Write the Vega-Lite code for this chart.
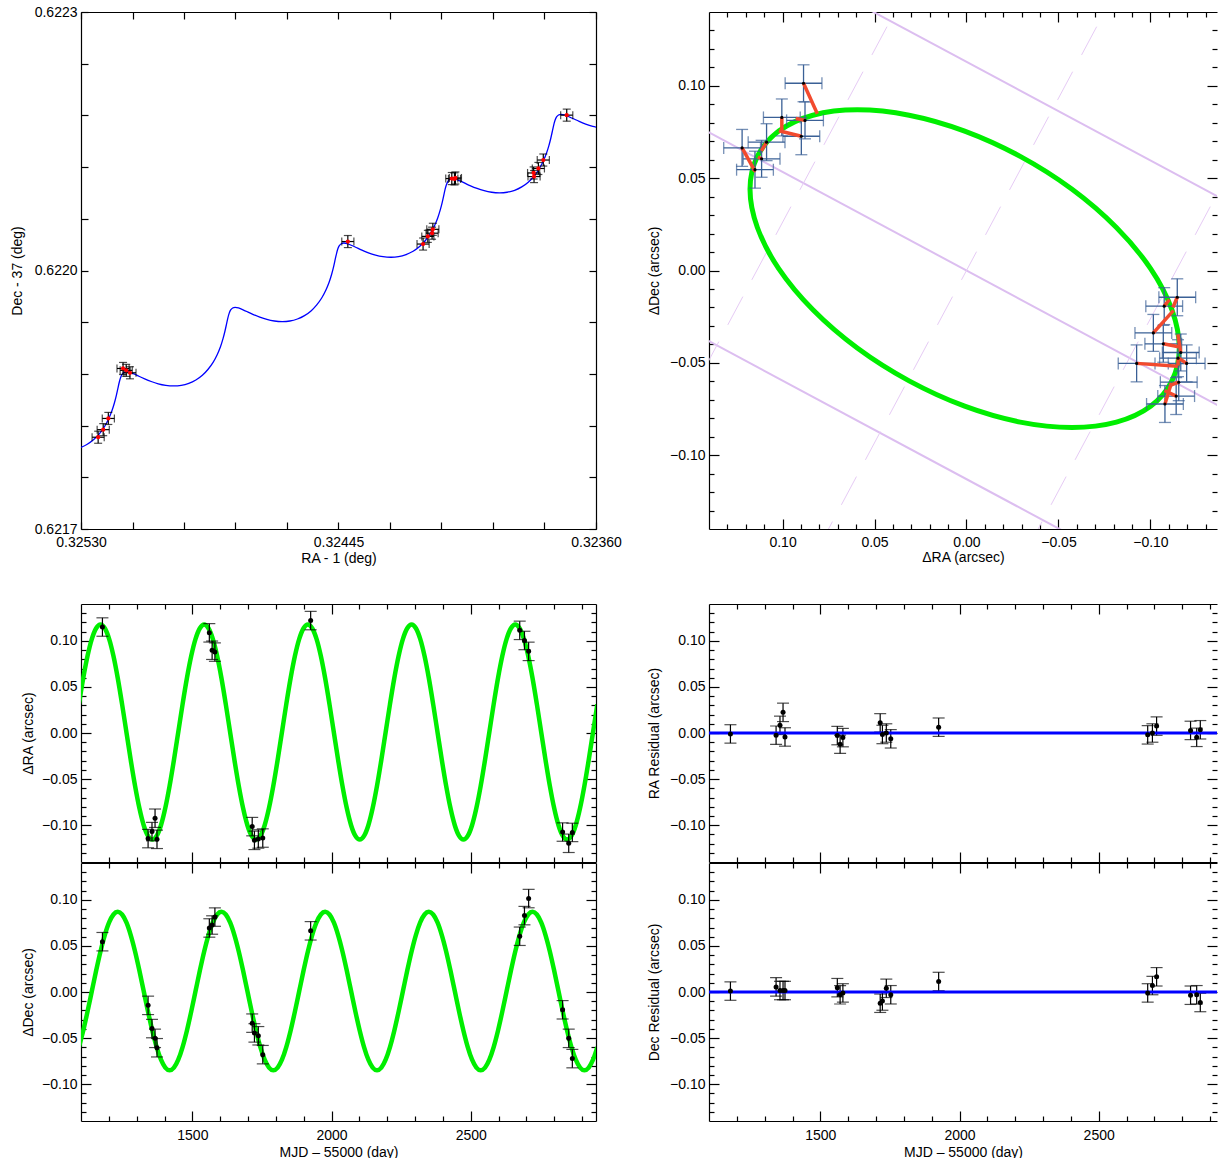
{
"$schema":"https://vega.github.io/schema/vega-lite/v6.json",
"padding":{"left":10,"top":5,"right":0,"bottom":0},
"config":{"view":{"stroke":null},"font":"Liberation Sans",
"axis":{"grid":false,"labelFont":"Liberation Sans","titleFont":"Liberation Sans","labelFontSize":14,"titleFontSize":14,"titleFontWeight":"normal","labelColor":"#000","titleColor":"#000","domainColor":"#000","tickColor":"#000","domainWidth":1.2,"tickWidth":1.2,"labelOverlap":false,"labelFlush":false,"labelBound":false}},
"datasets":{
"obs":[
{"t":1177,"ra":0.115,"dec":0.0546,"rra":-0.001,"rdec":0.001,"mra":0.116,"mdec":0.0536,"err":0.01,"rax":0.3236966,"decy":0.6221803,"erax":0.00002,"edecy":0.000007},
{"t":1341,"ra":-0.1146,"dec":-0.0145,"rra":-0.0024,"rdec":0.0055,"mra":-0.1122,"mdec":-0.02,"err":0.01,"rax":0.323774,"decy":0.6221282,"erax":0.00002,"edecy":0.000007},
{"t":1355,"ra":-0.107,"dec":-0.0397,"rra":0.0083,"rdec":0.0016,"mra":-0.1153,"mdec":-0.0413,"err":0.01,"rax":0.3237902,"decy":0.6221184,"erax":0.00002,"edecy":0.000007},
{"t":1366,"ra":-0.0925,"dec":-0.0503,"rra":0.0224,"rdec":0.0016,"mra":-0.1149,"mdec":-0.0519,"err":0.01,"rax":0.3238059,"decy":0.6221132,"erax":0.00002,"edecy":0.000007},
{"t":1373,"ra":-0.1154,"dec":-0.0605,"rra":-0.0043,"rdec":0.0016,"mra":-0.1111,"mdec":-0.0621,"err":0.01,"rax":0.3238045,"decy":0.622109,"erax":0.00002,"edecy":0.000007},
{"t":1561,"ra":0.1087,"dec":0.0695,"rra":-0.0028,"rdec":0.0047,"mra":0.1115,"mdec":0.0648,"err":0.01,"rax":0.3240641,"decy":0.6221074,"erax":0.00002,"edecy":0.000007},
{"t":1571,"ra":0.0898,"dec":0.0727,"rra":-0.0122,"rdec":-0.003,"mra":0.102,"mdec":0.0757,"err":0.01,"rax":0.3240671,"decy":0.6221063,"erax":0.00002,"edecy":0.000007},
{"t":1581,"ra":0.0878,"dec":0.0813,"rra":-0.005,"rdec":-0.001,"mra":0.0928,"mdec":0.0823,"err":0.01,"rax":0.324076,"decy":0.6221067,"erax":0.00002,"edecy":0.000007},
{"t":1715,"ra":-0.1016,"dec":-0.0338,"rra":0.011,"rdec":-0.0122,"mra":-0.1126,"mdec":-0.0216,"err":0.01,"rax":0.3241386,"decy":0.6220478,"erax":0.00002,"edecy":0.000007},
{"t":1723,"ra":-0.1165,"dec":-0.0444,"rra":-0.0016,"rdec":-0.0098,"mra":-0.1149,"mdec":-0.0346,"err":0.01,"rax":0.3241411,"decy":0.6220433,"erax":0.00002,"edecy":0.000007},
{"t":1737,"ra":-0.115,"dec":-0.0475,"rra":0,"rdec":0.004,"mra":-0.115,"mdec":-0.0515,"err":0.01,"rax":0.3241551,"decy":0.6220396,"erax":0.00002,"edecy":0.000007},
{"t":1753,"ra":-0.114,"dec":-0.068,"rra":-0.0063,"rdec":-0.003,"mra":-0.1077,"mdec":-0.065,"err":0.01,"rax":0.3241708,"decy":0.6220307,"erax":0.00002,"edecy":0.000007},
{"t":1925,"ra":0.122,"dec":0.0664,"rra":0.0063,"rdec":0.0114,"mra":0.1157,"mdec":0.055,"err":0.01,"rax":0.3244192,"decy":0.6220336,"erax":0.00002,"edecy":0.000007},
{"t":2676,"ra":0.1114,"dec":0.0605,"rra":-0.002,"rdec":-0.001,"mra":0.1134,"mdec":0.0615,"err":0.01,"rax":0.3251384,"decy":0.6218813,"erax":0.00002,"edecy":0.000007},
{"t":2693,"ra":0.1004,"dec":0.0829,"rra":0,"rdec":0.007,"mra":0.1004,"mdec":0.0759,"err":0.01,"rax":0.3251508,"decy":0.6218841,"erax":0.00002,"edecy":0.000007},
{"t":2708,"ra":0.0886,"dec":0.1014,"rra":0.0075,"rdec":0.0165,"mra":0.0811,"mdec":0.0849,"err":0.01,"rax":0.3251612,"decy":0.6218863,"erax":0.00002,"edecy":0.000007},
{"t":2830,"ra":-0.1075,"dec":-0.0193,"rra":0.0028,"rdec":-0.0035,"mra":-0.1103,"mdec":-0.0158,"err":0.01,"rax":0.3252098,"decy":0.6218283,"erax":0.00002,"edecy":0.000007},
{"t":2852,"ra":-0.1197,"dec":-0.0503,"rra":-0.0047,"rdec":-0.003,"mra":-0.115,"mdec":-0.0473,"err":0.01,"rax":0.3252267,"decy":0.6218153,"erax":0.00002,"edecy":0.000007},
{"t":2865,"ra":-0.1079,"dec":-0.0723,"rra":0.0035,"rdec":-0.0114,"mra":-0.1114,"mdec":-0.0609,"err":0.01,"rax":0.3252434,"decy":0.6218065,"erax":0.00002,"edecy":0.000007}
],
"model":[
{"t":1092.4,"ra":0.0312,"dec":-0.0598,"rax":0.3235858,"decy":0.6221655},
{"t":1107.9,"ra":0.0594,"dec":-0.042,"rax":0.3236107,"decy":0.6221673},
{"t":1123.4,"ra":0.0835,"dec":-0.0213,"rax":0.3236341,"decy":0.6221699},
{"t":1139.0,"ra":0.1021,"dec":0.001,"rax":0.3236555,"decy":0.622173},
{"t":1154.5,"ra":0.1137,"dec":0.0233,"rax":0.3236745,"decy":0.6221761},
{"t":1170.0,"ra":0.1177,"dec":0.044,"rax":0.3236909,"decy":0.6221787},
{"t":1185.5,"ra":0.1137,"dec":0.0618,"rax":0.3237044,"decy":0.6221806},
{"t":1201.0,"ra":0.1021,"dec":0.0755,"rax":0.3237153,"decy":0.6221813},
{"t":1216.6,"ra":0.0835,"dec":0.0841,"rax":0.3237237,"decy":0.6221805},
{"t":1232.1,"ra":0.0594,"dec":0.087,"rax":0.3237302,"decy":0.6221782},
{"t":1247.6,"ra":0.0312,"dec":0.0841,"rax":0.3237352,"decy":0.6221743},
{"t":1263.1,"ra":0.001,"dec":0.0755,"rax":0.3237396,"decy":0.6221688},
{"t":1278.6,"ra":-0.0292,"dec":0.0618,"rax":0.3237439,"decy":0.6221619},
{"t":1294.2,"ra":-0.0574,"dec":0.044,"rax":0.323749,"decy":0.6221538},
{"t":1309.7,"ra":-0.0815,"dec":0.0233,"rax":0.3237555,"decy":0.622145},
{"t":1325.2,"ra":-0.1001,"dec":0.001,"rax":0.3237639,"decy":0.6221357},
{"t":1340.7,"ra":-0.1117,"dec":-0.0213,"rax":0.3237748,"decy":0.6221264},
{"t":1356.3,"ra":-0.1157,"dec":-0.042,"rax":0.3237883,"decy":0.6221175},
{"t":1371.8,"ra":-0.1117,"dec":-0.0598,"rax":0.3238047,"decy":0.6221094},
{"t":1387.3,"ra":-0.1001,"dec":-0.0735,"rax":0.3238237,"decy":0.6221025},
{"t":1402.8,"ra":-0.0815,"dec":-0.0821,"rax":0.3238451,"decy":0.622097},
{"t":1418.3,"ra":-0.0574,"dec":-0.085,"rax":0.3238685,"decy":0.6220931},
{"t":1433.9,"ra":-0.0292,"dec":-0.0821,"rax":0.3238934,"decy":0.6220908},
{"t":1449.4,"ra":0.001,"dec":-0.0735,"rax":0.3239189,"decy":0.6220901},
{"t":1464.9,"ra":0.0312,"dec":-0.0598,"rax":0.3239444,"decy":0.6220908},
{"t":1480.4,"ra":0.0594,"dec":-0.042,"rax":0.3239692,"decy":0.6220926},
{"t":1495.9,"ra":0.0835,"dec":-0.0213,"rax":0.3239926,"decy":0.6220952},
{"t":1511.5,"ra":0.1021,"dec":0.001,"rax":0.3240141,"decy":0.6220983},
{"t":1527.0,"ra":0.1137,"dec":0.0233,"rax":0.3240331,"decy":0.6221014},
{"t":1542.5,"ra":0.1177,"dec":0.044,"rax":0.3240494,"decy":0.622104},
{"t":1558.0,"ra":0.1137,"dec":0.0618,"rax":0.324063,"decy":0.6221059},
{"t":1573.5,"ra":0.1021,"dec":0.0755,"rax":0.3240739,"decy":0.6221066},
{"t":1589.1,"ra":0.0835,"dec":0.0841,"rax":0.3240823,"decy":0.6221058},
{"t":1604.6,"ra":0.0594,"dec":0.087,"rax":0.3240888,"decy":0.6221035},
{"t":1620.1,"ra":0.0312,"dec":0.0841,"rax":0.3240938,"decy":0.6220996},
{"t":1635.6,"ra":0.001,"dec":0.0755,"rax":0.3240982,"decy":0.6220941},
{"t":1651.1,"ra":-0.0292,"dec":0.0618,"rax":0.3241025,"decy":0.6220872},
{"t":1666.7,"ra":-0.0574,"dec":0.044,"rax":0.3241076,"decy":0.6220791},
{"t":1682.2,"ra":-0.0815,"dec":0.0233,"rax":0.3241141,"decy":0.6220703},
{"t":1697.7,"ra":-0.1001,"dec":0.001,"rax":0.3241225,"decy":0.622061},
{"t":1713.2,"ra":-0.1117,"dec":-0.0213,"rax":0.3241334,"decy":0.6220517},
{"t":1728.8,"ra":-0.1157,"dec":-0.042,"rax":0.3241469,"decy":0.6220428},
{"t":1744.3,"ra":-0.1117,"dec":-0.0598,"rax":0.3241632,"decy":0.6220348},
{"t":1759.8,"ra":-0.1001,"dec":-0.0735,"rax":0.3241822,"decy":0.6220278},
{"t":1775.3,"ra":-0.0815,"dec":-0.0821,"rax":0.3242037,"decy":0.6220223},
{"t":1790.8,"ra":-0.0574,"dec":-0.085,"rax":0.3242271,"decy":0.6220184},
{"t":1806.4,"ra":-0.0292,"dec":-0.0821,"rax":0.3242519,"decy":0.6220161},
{"t":1821.9,"ra":0.001,"dec":-0.0735,"rax":0.3242775,"decy":0.6220154},
{"t":1837.4,"ra":0.0312,"dec":-0.0598,"rax":0.324303,"decy":0.6220161},
{"t":1852.9,"ra":0.0594,"dec":-0.042,"rax":0.3243278,"decy":0.6220179},
{"t":1868.4,"ra":0.0835,"dec":-0.0213,"rax":0.3243512,"decy":0.6220205},
{"t":1884.0,"ra":0.1021,"dec":0.001,"rax":0.3243727,"decy":0.6220236},
{"t":1899.5,"ra":0.1137,"dec":0.0233,"rax":0.3243917,"decy":0.6220267},
{"t":1915.0,"ra":0.1177,"dec":0.044,"rax":0.324408,"decy":0.6220293},
{"t":1930.5,"ra":0.1137,"dec":0.0618,"rax":0.3244215,"decy":0.6220312},
{"t":1946.0,"ra":0.1021,"dec":0.0755,"rax":0.3244324,"decy":0.6220319},
{"t":1961.6,"ra":0.0835,"dec":0.0841,"rax":0.3244408,"decy":0.6220311},
{"t":1977.1,"ra":0.0594,"dec":0.087,"rax":0.3244473,"decy":0.6220288},
{"t":1992.6,"ra":0.0312,"dec":0.0841,"rax":0.3244524,"decy":0.6220249},
{"t":2008.1,"ra":0.001,"dec":0.0755,"rax":0.3244567,"decy":0.6220194},
{"t":2023.6,"ra":-0.0292,"dec":0.0618,"rax":0.3244611,"decy":0.6220125},
{"t":2039.2,"ra":-0.0574,"dec":0.044,"rax":0.3244661,"decy":0.6220044},
{"t":2054.7,"ra":-0.0815,"dec":0.0233,"rax":0.3244726,"decy":0.6219956},
{"t":2070.2,"ra":-0.1001,"dec":0.001,"rax":0.324481,"decy":0.6219863},
{"t":2085.7,"ra":-0.1117,"dec":-0.0213,"rax":0.3244919,"decy":0.621977},
{"t":2101.3,"ra":-0.1157,"dec":-0.042,"rax":0.3245055,"decy":0.6219681},
{"t":2116.8,"ra":-0.1117,"dec":-0.0598,"rax":0.3245218,"decy":0.6219601},
{"t":2132.3,"ra":-0.1001,"dec":-0.0735,"rax":0.3245408,"decy":0.6219531},
{"t":2147.8,"ra":-0.0815,"dec":-0.0821,"rax":0.3245623,"decy":0.6219476},
{"t":2163.3,"ra":-0.0574,"dec":-0.085,"rax":0.3245857,"decy":0.6219437},
{"t":2178.9,"ra":-0.0292,"dec":-0.0821,"rax":0.3246105,"decy":0.6219414},
{"t":2194.4,"ra":0.001,"dec":-0.0735,"rax":0.324636,"decy":0.6219407},
{"t":2209.9,"ra":0.0312,"dec":-0.0598,"rax":0.3246616,"decy":0.6219414},
{"t":2225.4,"ra":0.0594,"dec":-0.042,"rax":0.3246864,"decy":0.6219432},
{"t":2240.9,"ra":0.0835,"dec":-0.0213,"rax":0.3247098,"decy":0.6219459},
{"t":2256.5,"ra":0.1021,"dec":0.001,"rax":0.3247312,"decy":0.6219489},
{"t":2272.0,"ra":0.1137,"dec":0.0233,"rax":0.3247502,"decy":0.621952},
{"t":2287.5,"ra":0.1177,"dec":0.044,"rax":0.3247666,"decy":0.6219547},
{"t":2303.0,"ra":0.1137,"dec":0.0618,"rax":0.3247801,"decy":0.6219565},
{"t":2318.5,"ra":0.1021,"dec":0.0755,"rax":0.324791,"decy":0.6219572},
{"t":2334.1,"ra":0.0835,"dec":0.0841,"rax":0.3247994,"decy":0.6219565},
{"t":2349.6,"ra":0.0594,"dec":0.087,"rax":0.3248059,"decy":0.6219542},
{"t":2365.1,"ra":0.0312,"dec":0.0841,"rax":0.324811,"decy":0.6219502},
{"t":2380.6,"ra":0.001,"dec":0.0755,"rax":0.3248153,"decy":0.6219447},
{"t":2396.1,"ra":-0.0292,"dec":0.0618,"rax":0.3248197,"decy":0.6219378},
{"t":2411.7,"ra":-0.0574,"dec":0.044,"rax":0.3248247,"decy":0.6219298},
{"t":2427.2,"ra":-0.0815,"dec":0.0233,"rax":0.3248312,"decy":0.6219209},
{"t":2442.7,"ra":-0.1001,"dec":0.001,"rax":0.3248396,"decy":0.6219116},
{"t":2458.2,"ra":-0.1117,"dec":-0.0213,"rax":0.3248505,"decy":0.6219023},
{"t":2473.8,"ra":-0.1157,"dec":-0.042,"rax":0.324864,"decy":0.6218934},
{"t":2489.3,"ra":-0.1117,"dec":-0.0598,"rax":0.3248804,"decy":0.6218854},
{"t":2504.8,"ra":-0.1001,"dec":-0.0735,"rax":0.3248994,"decy":0.6218784},
{"t":2520.3,"ra":-0.0815,"dec":-0.0821,"rax":0.3249208,"decy":0.6218729},
{"t":2535.8,"ra":-0.0574,"dec":-0.085,"rax":0.3249442,"decy":0.621869},
{"t":2551.4,"ra":-0.0292,"dec":-0.0821,"rax":0.3249691,"decy":0.6218667},
{"t":2566.9,"ra":0.001,"dec":-0.0735,"rax":0.3249946,"decy":0.621866},
{"t":2582.4,"ra":0.0312,"dec":-0.0598,"rax":0.3250201,"decy":0.6218667},
{"t":2597.9,"ra":0.0594,"dec":-0.042,"rax":0.325045,"decy":0.6218685},
{"t":2613.4,"ra":0.0835,"dec":-0.0213,"rax":0.3250683,"decy":0.6218712},
{"t":2629.0,"ra":0.1021,"dec":0.001,"rax":0.3250898,"decy":0.6218743},
{"t":2644.5,"ra":0.1137,"dec":0.0233,"rax":0.3251088,"decy":0.6218773},
{"t":2660.0,"ra":0.1177,"dec":0.044,"rax":0.3251252,"decy":0.62188},
{"t":2675.5,"ra":0.1137,"dec":0.0618,"rax":0.3251387,"decy":0.6218818},
{"t":2691.0,"ra":0.1021,"dec":0.0755,"rax":0.3251496,"decy":0.6218825},
{"t":2706.6,"ra":0.0835,"dec":0.0841,"rax":0.325158,"decy":0.6218818},
{"t":2722.1,"ra":0.0594,"dec":0.087,"rax":0.3251645,"decy":0.6218795},
{"t":2737.6,"ra":0.0312,"dec":0.0841,"rax":0.3251695,"decy":0.6218755},
{"t":2753.1,"ra":0.001,"dec":0.0755,"rax":0.3251739,"decy":0.62187},
{"t":2768.6,"ra":-0.0292,"dec":0.0618,"rax":0.3251782,"decy":0.6218631},
{"t":2784.2,"ra":-0.0574,"dec":0.044,"rax":0.3251833,"decy":0.6218551},
{"t":2799.7,"ra":-0.0815,"dec":0.0233,"rax":0.3251898,"decy":0.6218462},
{"t":2815.2,"ra":-0.1001,"dec":0.001,"rax":0.3251982,"decy":0.6218369},
{"t":2830.7,"ra":-0.1117,"dec":-0.0213,"rax":0.3252091,"decy":0.6218276},
{"t":2846.3,"ra":-0.1157,"dec":-0.042,"rax":0.3252226,"decy":0.6218187},
{"t":2861.8,"ra":-0.1117,"dec":-0.0598,"rax":0.3252389,"decy":0.6218107},
{"t":2877.3,"ra":-0.1001,"dec":-0.0735,"rax":0.3252579,"decy":0.6218038},
{"t":2892.8,"ra":-0.0815,"dec":-0.0821,"rax":0.3252794,"decy":0.6217983},
{"t":2908.3,"ra":-0.0574,"dec":-0.085,"rax":0.3253028,"decy":0.6217943},
{"t":2923.9,"ra":-0.0292,"dec":-0.0821,"rax":0.3253276,"decy":0.621792},
{"t":2939.4,"ra":0.001,"dec":-0.0735,"rax":0.3253532,"decy":0.6217913},
{"t":2954.9,"ra":0.0312,"dec":-0.0598,"rax":0.3253787,"decy":0.621792}
],
"ell":[
{"j":0,"ra":0.1177,"dec":0.044},{"j":1,"ra":0.1137,"dec":0.0618},{"j":2,"ra":0.1021,"dec":0.0755},{"j":3,"ra":0.0835,"dec":0.0841},
{"j":4,"ra":0.0594,"dec":0.087},{"j":5,"ra":0.0312,"dec":0.0841},{"j":6,"ra":0.001,"dec":0.0755},{"j":7,"ra":-0.0292,"dec":0.0618},
{"j":8,"ra":-0.0574,"dec":0.044},{"j":9,"ra":-0.0815,"dec":0.0233},{"j":10,"ra":-0.1001,"dec":0.001},{"j":11,"ra":-0.1117,"dec":-0.0213},
{"j":12,"ra":-0.1157,"dec":-0.042},{"j":13,"ra":-0.1117,"dec":-0.0598},{"j":14,"ra":-0.1001,"dec":-0.0735},{"j":15,"ra":-0.0815,"dec":-0.0821},
{"j":16,"ra":-0.0574,"dec":-0.085},{"j":17,"ra":-0.0292,"dec":-0.0821},{"j":18,"ra":0.001,"dec":-0.0735},{"j":19,"ra":0.0312,"dec":-0.0598},
{"j":20,"ra":0.0594,"dec":-0.042},{"j":21,"ra":0.0835,"dec":-0.0213},{"j":22,"ra":0.1021,"dec":0.001},{"j":23,"ra":0.1137,"dec":0.0233}
],
"grid":[
{"kind":"s","x1":0.2,"y1":0.2198,"x2":-0.2,"y2":0.0062},
{"kind":"s","x1":0.2,"y1":0.1068,"x2":-0.2,"y2":-0.1068},
{"kind":"s","x1":0.2,"y1":-0.0062,"x2":-0.2,"y2":-0.2198},
{"kind":"d","x1":0.2212,"y1":-0.2,"x2":0.0068,"y2":0.2},
{"kind":"d","x1":0.1072,"y1":-0.2,"x2":-0.1072,"y2":0.2},
{"kind":"d","x1":-0.0068,"y1":-0.2,"x2":-0.2212,"y2":0.2}
],
"zero":[{"res":0}]
},
"spacing":38,
"vconcat":[
{"spacing":113,"bounds":"flush","hconcat":[
{"width":515,"height":517,
"resolve":{"axis":{"x":"independent","y":"independent"}},
"layer":[
{"data":{"name":"model"},"mark":{"type":"line","color":"#0000ff","strokeWidth":1.3,"interpolate":"natural","clip":true},
"encoding":{
"x":{"field":"rax","type":"quantitative","scale":{"domain":[0.3236,0.3253],"reverse":true,"nice":false,"zero":false},
"axis":{"orient":"bottom","title":"RA - 1 (deg)","values":[0.3236,0.32377,0.32394,0.32411,0.32428,0.32445,0.32462,0.32479,0.32496,0.32513,0.3253],"labelExpr":"(round(datum.value*100000) - 32360) % 85 == 0 ? format(datum.value, '.5f') : ''","tickSize":-7,"labelPadding":13,"titlePadding":2}},
"y":{"field":"decy","type":"quantitative","scale":{"domain":[0.6217,0.6223],"nice":false,"zero":false},
"axis":{"orient":"left","title":"Dec - 37 (deg)","values":[0.6217,0.62176,0.62182,0.62188,0.62194,0.622,0.62206,0.62212,0.62218,0.62224,0.6223],"labelExpr":"(round(datum.value*100000) - 62170) % 30 == 0 ? format(datum.value, '.4f') : ''","tickSize":-7,"labelPadding":11,"titlePadding":10}},
"order":{"field":"t","type":"quantitative"}}},
{"data":{"name":"obs"},"mark":{"type":"errorbar","color":"#000","thickness":1.2,"ticks":{"size":8,"thickness":1.2}},
"encoding":{
"x":{"field":"rax","type":"quantitative","scale":{"domain":[0.3236,0.3253],"reverse":true,"nice":false,"zero":false},"axis":null},
"xError":{"field":"erax"},
"y":{"field":"decy","type":"quantitative","scale":{"domain":[0.6217,0.6223],"nice":false,"zero":false},"axis":null}}},
{"data":{"name":"obs"},"mark":{"type":"errorbar","color":"#000","thickness":1.2,"ticks":{"size":8,"thickness":1.2}},
"encoding":{
"x":{"field":"rax","type":"quantitative","scale":{"domain":[0.3236,0.3253],"reverse":true,"nice":false,"zero":false},"axis":null},
"y":{"field":"decy","type":"quantitative","scale":{"domain":[0.6217,0.6223],"nice":false,"zero":false},"axis":null},
"yError":{"field":"edecy"}}},
{"data":{"name":"obs"},"mark":{"type":"circle","color":"#ff0000","size":18,"opacity":1},
"encoding":{
"x":{"field":"rax","type":"quantitative","scale":{"domain":[0.3236,0.3253],"reverse":true,"nice":false,"zero":false},"axis":null},
"y":{"field":"decy","type":"quantitative","scale":{"domain":[0.6217,0.6223],"nice":false,"zero":false},"axis":null}}},
{"data":{"name":"obs"},"mark":{"type":"circle","opacity":0},
"encoding":{
"x":{"field":"rax","type":"quantitative","scale":{"domain":[0.3236,0.3253],"reverse":true,"nice":false,"zero":false},
"axis":{"orient":"top","title":null,"labels":false,"values":[0.3236,0.32377,0.32394,0.32411,0.32428,0.32445,0.32462,0.32479,0.32496,0.32513,0.3253],"tickSize":-7}},
"y":{"field":"decy","type":"quantitative","scale":{"domain":[0.6217,0.6223],"nice":false,"zero":false},
"axis":{"orient":"right","title":null,"labels":false,"values":[0.6217,0.62176,0.62182,0.62188,0.62194,0.622,0.62206,0.62212,0.62218,0.62224,0.6223],"tickSize":-7}}}}
]},
{"width":508,"height":517,
"resolve":{"axis":{"x":"independent","y":"independent"}},
"layer":[
{"data":{"name":"grid"},"transform":[{"filter":"datum.kind == 's'"}],"mark":{"type":"rule","color":"#dcbef0","strokeWidth":2,"clip":true},
"encoding":{
"x":{"field":"x1","type":"quantitative","scale":{"domain":[-0.1362,0.14],"reverse":true,"nice":false,"zero":false},
"axis":{"orient":"bottom","title":"ΔRA (arcsec)","values":[-0.13,-0.12,-0.11,-0.1,-0.09,-0.08,-0.07,-0.06,-0.05,-0.04,-0.03,-0.02,-0.01,0,0.01,0.02,0.03,0.04,0.05,0.06,0.07,0.08,0.09,0.1,0.11,0.12,0.13],"labelExpr":"abs(round(datum.value*100)) % 5 == 0 ? format(datum.value, '.2f') : ''","tickSize":{"condition":{"test":"abs(round(datum.value*100)) % 5 == 0","value":-10},"value":-5},"labelPadding":16,"titlePadding":-4}},
"y":{"field":"y1","type":"quantitative","scale":{"domain":[-0.14,0.14],"nice":false,"zero":false},
"axis":{"orient":"left","title":"ΔDec (arcsec)","values":[-0.13,-0.12,-0.11,-0.1,-0.09,-0.08,-0.07,-0.06,-0.05,-0.04,-0.03,-0.02,-0.01,0,0.01,0.02,0.03,0.04,0.05,0.06,0.07,0.08,0.09,0.1,0.11,0.12,0.13],"labelExpr":"abs(round(datum.value*100)) % 5 == 0 ? format(datum.value, '.2f') : ''","tickSize":{"condition":{"test":"abs(round(datum.value*100)) % 5 == 0","value":-10},"value":-5},"labelPadding":14,"titlePadding":8}},
"x2":{"field":"x2"},"y2":{"field":"y2"}}},
{"data":{"name":"grid"},"transform":[{"filter":"datum.kind == 'd'"}],"mark":{"type":"rule","color":"#e6cbf5","strokeWidth":1,"strokeDash":[32,19],"clip":true},
"encoding":{
"x":{"field":"x1","type":"quantitative","scale":{"domain":[-0.1362,0.14],"reverse":true,"nice":false,"zero":false},"axis":null},
"y":{"field":"y1","type":"quantitative","scale":{"domain":[-0.14,0.14],"nice":false,"zero":false},"axis":null},
"x2":{"field":"x2"},"y2":{"field":"y2"}}},
{"data":{"name":"ell"},"mark":{"type":"line","color":"#00ee00","strokeWidth":5,"interpolate":"cardinal-closed"},
"encoding":{
"x":{"field":"ra","type":"quantitative","scale":{"domain":[-0.1362,0.14],"reverse":true,"nice":false,"zero":false},"axis":null},
"y":{"field":"dec","type":"quantitative","scale":{"domain":[-0.14,0.14],"nice":false,"zero":false},"axis":null},
"order":{"field":"j","type":"quantitative"}}},
{"data":{"name":"obs"},"mark":{"type":"errorbar","color":"#3a6096","thickness":1.3,"ticks":{"size":12,"thickness":1.3}},
"encoding":{
"x":{"field":"ra","type":"quantitative","scale":{"domain":[-0.1362,0.14],"reverse":true,"nice":false,"zero":false},"axis":null},
"xError":{"field":"err"},
"y":{"field":"dec","type":"quantitative","scale":{"domain":[-0.14,0.14],"nice":false,"zero":false},"axis":null}}},
{"data":{"name":"obs"},"mark":{"type":"errorbar","color":"#3a6096","thickness":1.3,"ticks":{"size":12,"thickness":1.3}},
"encoding":{
"x":{"field":"ra","type":"quantitative","scale":{"domain":[-0.1362,0.14],"reverse":true,"nice":false,"zero":false},"axis":null},
"y":{"field":"dec","type":"quantitative","scale":{"domain":[-0.14,0.14],"nice":false,"zero":false},"axis":null},
"yError":{"field":"err"}}},
{"data":{"name":"obs"},"mark":{"type":"rule","color":"#f24a2e","strokeWidth":3.5},
"encoding":{
"x":{"field":"ra","type":"quantitative","scale":{"domain":[-0.1362,0.14],"reverse":true,"nice":false,"zero":false},"axis":null},
"y":{"field":"dec","type":"quantitative","scale":{"domain":[-0.14,0.14],"nice":false,"zero":false},"axis":null},
"x2":{"field":"mra"},"y2":{"field":"mdec"}}},
{"data":{"name":"obs"},"mark":{"type":"circle","color":"#000","size":10,"opacity":1},
"encoding":{
"x":{"field":"ra","type":"quantitative","scale":{"domain":[-0.1362,0.14],"reverse":true,"nice":false,"zero":false},"axis":null},
"y":{"field":"dec","type":"quantitative","scale":{"domain":[-0.14,0.14],"nice":false,"zero":false},"axis":null}}},
{"data":{"name":"obs"},"mark":{"type":"circle","opacity":0},
"encoding":{
"x":{"field":"ra","type":"quantitative","scale":{"domain":[-0.1362,0.14],"reverse":true,"nice":false,"zero":false},
"axis":{"orient":"top","title":null,"labels":false,"values":[-0.13,-0.12,-0.11,-0.1,-0.09,-0.08,-0.07,-0.06,-0.05,-0.04,-0.03,-0.02,-0.01,0,0.01,0.02,0.03,0.04,0.05,0.06,0.07,0.08,0.09,0.1,0.11,0.12,0.13],"tickSize":{"condition":{"test":"abs(round(datum.value*100)) % 5 == 0","value":-10},"value":-5}}},
"y":{"field":"dec","type":"quantitative","scale":{"domain":[-0.14,0.14],"nice":false,"zero":false},
"axis":{"orient":"right","title":null,"labels":false,"domain":false,"values":[-0.13,-0.12,-0.11,-0.1,-0.09,-0.08,-0.07,-0.06,-0.05,-0.04,-0.03,-0.02,-0.01,0,0.01,0.02,0.03,0.04,0.05,0.06,0.07,0.08,0.09,0.1,0.11,0.12,0.13],"tickSize":{"condition":{"test":"abs(round(datum.value*100)) % 5 == 0","value":-10},"value":-5}}}}}
]}
]},
{"spacing":-2,"vconcat":[
{"spacing":113,"bounds":"flush","hconcat":[
{"width":515,"height":258,
"resolve":{"axis":{"x":"independent","y":"independent"}},
"layer":[
{"data":{"name":"model"},"mark":{"type":"line","color":"#00ee00","strokeWidth":4.5,"interpolate":"monotone","clip":true},
"encoding":{
"x":{"field":"t","type":"quantitative","scale":{"domain":[1100,2950],"nice":false,"zero":false},
"axis":{"orient":"bottom","title":null,"labels":false,"values":[1200,1300,1400,1500,1600,1700,1800,1900,2000,2100,2200,2300,2400,2500,2600,2700,2800,2900],"tickSize":{"condition":{"test":"datum.value % 500 == 0","value":-10},"value":-5}}},
"y":{"field":"ra","type":"quantitative","scale":{"domain":[-0.14,0.14],"nice":false,"zero":false},
"axis":{"orient":"left","title":"ΔRA (arcsec)","values":[-0.13,-0.12,-0.11,-0.1,-0.09,-0.08,-0.07,-0.06,-0.05,-0.04,-0.03,-0.02,-0.01,0,0.01,0.02,0.03,0.04,0.05,0.06,0.07,0.08,0.09,0.1,0.11,0.12,0.13],"labelExpr":"abs(round(datum.value*100)) % 5 == 0 ? format(datum.value, '.2f') : ''","tickSize":{"condition":{"test":"abs(round(datum.value*100)) % 5 == 0","value":-10},"value":-5},"labelPadding":14,"titlePadding":6}}}},
{"data":{"name":"obs"},"mark":{"type":"errorbar","color":"#000","thickness":1.2,"ticks":{"size":12,"thickness":1.2}},
"encoding":{
"x":{"field":"t","type":"quantitative","scale":{"domain":[1100,2950],"nice":false,"zero":false},"axis":null},
"y":{"field":"ra","type":"quantitative","scale":{"domain":[-0.14,0.14],"nice":false,"zero":false},"axis":null},
"yError":{"field":"err"}}},
{"data":{"name":"obs"},"mark":{"type":"circle","color":"#000","size":25,"opacity":1},
"encoding":{
"x":{"field":"t","type":"quantitative","scale":{"domain":[1100,2950],"nice":false,"zero":false},"axis":null},
"y":{"field":"ra","type":"quantitative","scale":{"domain":[-0.14,0.14],"nice":false,"zero":false},"axis":null}}},
{"data":{"name":"obs"},"mark":{"type":"circle","opacity":0},
"encoding":{
"x":{"field":"t","type":"quantitative","scale":{"domain":[1100,2950],"nice":false,"zero":false},
"axis":{"orient":"top","title":null,"labels":false,"values":[1200,1300,1400,1500,1600,1700,1800,1900,2000,2100,2200,2300,2400,2500,2600,2700,2800,2900],"tickSize":{"condition":{"test":"datum.value % 500 == 0","value":-10},"value":-5}}},
"y":{"field":"ra","type":"quantitative","scale":{"domain":[-0.14,0.14],"nice":false,"zero":false},
"axis":{"orient":"right","title":null,"labels":false,"values":[-0.13,-0.12,-0.11,-0.1,-0.09,-0.08,-0.07,-0.06,-0.05,-0.04,-0.03,-0.02,-0.01,0,0.01,0.02,0.03,0.04,0.05,0.06,0.07,0.08,0.09,0.1,0.11,0.12,0.13],"tickSize":{"condition":{"test":"abs(round(datum.value*100)) % 5 == 0","value":-10},"value":-5}}}}}
]},
{"width":508,"height":258,
"resolve":{"axis":{"x":"independent","y":"independent"}},
"layer":[
{"data":{"name":"obs"},"mark":{"type":"errorbar","color":"#000","thickness":1.2,"ticks":{"size":12,"thickness":1.2}},
"encoding":{
"x":{"field":"t","type":"quantitative","scale":{"domain":[1100,2925],"nice":false,"zero":false},
"axis":{"orient":"bottom","title":null,"labels":false,"values":[1200,1300,1400,1500,1600,1700,1800,1900,2000,2100,2200,2300,2400,2500,2600,2700,2800,2900],"tickSize":{"condition":{"test":"datum.value % 500 == 0","value":-10},"value":-5}}},
"y":{"field":"rra","type":"quantitative","scale":{"domain":[-0.14,0.14],"nice":false,"zero":false},
"axis":{"orient":"left","title":"RA Residual (arcsec)","values":[-0.13,-0.12,-0.11,-0.1,-0.09,-0.08,-0.07,-0.06,-0.05,-0.04,-0.03,-0.02,-0.01,0,0.01,0.02,0.03,0.04,0.05,0.06,0.07,0.08,0.09,0.1,0.11,0.12,0.13],"labelExpr":"abs(round(datum.value*100)) % 5 == 0 ? format(datum.value, '.2f') : ''","tickSize":{"condition":{"test":"abs(round(datum.value*100)) % 5 == 0","value":-10},"value":-5},"labelPadding":14,"titlePadding":8}},
"yError":{"field":"err"}}},
{"data":{"name":"zero"},"mark":{"type":"rule","color":"#0000ff","strokeWidth":3},
"encoding":{"y":{"field":"res","type":"quantitative","scale":{"domain":[-0.14,0.14],"nice":false,"zero":false},"axis":null}}},
{"data":{"name":"obs"},"mark":{"type":"circle","color":"#000","size":25,"opacity":1},
"encoding":{
"x":{"field":"t","type":"quantitative","scale":{"domain":[1100,2925],"nice":false,"zero":false},"axis":null},
"y":{"field":"rra","type":"quantitative","scale":{"domain":[-0.14,0.14],"nice":false,"zero":false},"axis":null}}},
{"data":{"name":"obs"},"mark":{"type":"circle","opacity":0},
"encoding":{
"x":{"field":"t","type":"quantitative","scale":{"domain":[1100,2925],"nice":false,"zero":false},
"axis":{"orient":"top","title":null,"labels":false,"values":[1200,1300,1400,1500,1600,1700,1800,1900,2000,2100,2200,2300,2400,2500,2600,2700,2800,2900],"tickSize":{"condition":{"test":"datum.value % 500 == 0","value":-10},"value":-5}}},
"y":{"field":"rra","type":"quantitative","scale":{"domain":[-0.14,0.14],"nice":false,"zero":false},
"axis":{"orient":"right","title":null,"labels":false,"domain":false,"values":[-0.13,-0.12,-0.11,-0.1,-0.09,-0.08,-0.07,-0.06,-0.05,-0.04,-0.03,-0.02,-0.01,0,0.01,0.02,0.03,0.04,0.05,0.06,0.07,0.08,0.09,0.1,0.11,0.12,0.13],"tickSize":{"condition":{"test":"abs(round(datum.value*100)) % 5 == 0","value":-10},"value":-5}}}}}
]}
]},
{"spacing":113,"bounds":"flush","hconcat":[
{"width":515,"height":258,
"resolve":{"axis":{"x":"independent","y":"independent"}},
"layer":[
{"data":{"name":"model"},"mark":{"type":"line","color":"#00ee00","strokeWidth":4.5,"interpolate":"monotone","clip":true},
"encoding":{
"x":{"field":"t","type":"quantitative","scale":{"domain":[1100,2950],"nice":false,"zero":false},
"axis":{"orient":"bottom","title":"MJD – 55000 (day)","values":[1200,1300,1400,1500,1600,1700,1800,1900,2000,2100,2200,2300,2400,2500,2600,2700,2800,2900],"labelExpr":"datum.value % 500 == 0 ? format(datum.value, 'd') : ''","tickSize":{"condition":{"test":"datum.value % 500 == 0","value":-10},"value":-5},"labelPadding":17,"titlePadding":-2}},
"y":{"field":"dec","type":"quantitative","scale":{"domain":[-0.14,0.14],"nice":false,"zero":false},
"axis":{"orient":"left","title":"ΔDec (arcsec)","values":[-0.13,-0.12,-0.11,-0.1,-0.09,-0.08,-0.07,-0.06,-0.05,-0.04,-0.03,-0.02,-0.01,0,0.01,0.02,0.03,0.04,0.05,0.06,0.07,0.08,0.09,0.1,0.11,0.12,0.13],"labelExpr":"abs(round(datum.value*100)) % 5 == 0 ? format(datum.value, '.2f') : ''","tickSize":{"condition":{"test":"abs(round(datum.value*100)) % 5 == 0","value":-10},"value":-5},"labelPadding":14,"titlePadding":6}}}},
{"data":{"name":"obs"},"mark":{"type":"errorbar","color":"#000","thickness":1.2,"ticks":{"size":12,"thickness":1.2}},
"encoding":{
"x":{"field":"t","type":"quantitative","scale":{"domain":[1100,2950],"nice":false,"zero":false},"axis":null},
"y":{"field":"dec","type":"quantitative","scale":{"domain":[-0.14,0.14],"nice":false,"zero":false},"axis":null},
"yError":{"field":"err"}}},
{"data":{"name":"obs"},"mark":{"type":"circle","color":"#000","size":25,"opacity":1},
"encoding":{
"x":{"field":"t","type":"quantitative","scale":{"domain":[1100,2950],"nice":false,"zero":false},"axis":null},
"y":{"field":"dec","type":"quantitative","scale":{"domain":[-0.14,0.14],"nice":false,"zero":false},"axis":null}}},
{"data":{"name":"obs"},"mark":{"type":"circle","opacity":0},
"encoding":{
"x":{"field":"t","type":"quantitative","scale":{"domain":[1100,2950],"nice":false,"zero":false},
"axis":{"orient":"top","title":null,"labels":false,"values":[1200,1300,1400,1500,1600,1700,1800,1900,2000,2100,2200,2300,2400,2500,2600,2700,2800,2900],"tickSize":{"condition":{"test":"datum.value % 500 == 0","value":-10},"value":-5}}},
"y":{"field":"dec","type":"quantitative","scale":{"domain":[-0.14,0.14],"nice":false,"zero":false},
"axis":{"orient":"right","title":null,"labels":false,"values":[-0.13,-0.12,-0.11,-0.1,-0.09,-0.08,-0.07,-0.06,-0.05,-0.04,-0.03,-0.02,-0.01,0,0.01,0.02,0.03,0.04,0.05,0.06,0.07,0.08,0.09,0.1,0.11,0.12,0.13],"tickSize":{"condition":{"test":"abs(round(datum.value*100)) % 5 == 0","value":-10},"value":-5}}}}}
]},
{"width":508,"height":258,
"resolve":{"axis":{"x":"independent","y":"independent"}},
"layer":[
{"data":{"name":"obs"},"mark":{"type":"errorbar","color":"#000","thickness":1.2,"ticks":{"size":12,"thickness":1.2}},
"encoding":{
"x":{"field":"t","type":"quantitative","scale":{"domain":[1100,2925],"nice":false,"zero":false},
"axis":{"orient":"bottom","title":"MJD – 55000 (day)","values":[1200,1300,1400,1500,1600,1700,1800,1900,2000,2100,2200,2300,2400,2500,2600,2700,2800,2900],"labelExpr":"datum.value % 500 == 0 ? format(datum.value, 'd') : ''","tickSize":{"condition":{"test":"datum.value % 500 == 0","value":-10},"value":-5},"labelPadding":17,"titlePadding":-2}},
"y":{"field":"rdec","type":"quantitative","scale":{"domain":[-0.14,0.14],"nice":false,"zero":false},
"axis":{"orient":"left","title":"Dec Residual (arcsec)","values":[-0.13,-0.12,-0.11,-0.1,-0.09,-0.08,-0.07,-0.06,-0.05,-0.04,-0.03,-0.02,-0.01,0,0.01,0.02,0.03,0.04,0.05,0.06,0.07,0.08,0.09,0.1,0.11,0.12,0.13],"labelExpr":"abs(round(datum.value*100)) % 5 == 0 ? format(datum.value, '.2f') : ''","tickSize":{"condition":{"test":"abs(round(datum.value*100)) % 5 == 0","value":-10},"value":-5},"labelPadding":14,"titlePadding":8}},
"yError":{"field":"err"}}},
{"data":{"name":"zero"},"mark":{"type":"rule","color":"#0000ff","strokeWidth":3},
"encoding":{"y":{"field":"res","type":"quantitative","scale":{"domain":[-0.14,0.14],"nice":false,"zero":false},"axis":null}}},
{"data":{"name":"obs"},"mark":{"type":"circle","color":"#000","size":25,"opacity":1},
"encoding":{
"x":{"field":"t","type":"quantitative","scale":{"domain":[1100,2925],"nice":false,"zero":false},"axis":null},
"y":{"field":"rdec","type":"quantitative","scale":{"domain":[-0.14,0.14],"nice":false,"zero":false},"axis":null}}},
{"data":{"name":"obs"},"mark":{"type":"circle","opacity":0},
"encoding":{
"x":{"field":"t","type":"quantitative","scale":{"domain":[1100,2925],"nice":false,"zero":false},
"axis":{"orient":"top","title":null,"labels":false,"values":[1200,1300,1400,1500,1600,1700,1800,1900,2000,2100,2200,2300,2400,2500,2600,2700,2800,2900],"tickSize":{"condition":{"test":"datum.value % 500 == 0","value":-10},"value":-5}}},
"y":{"field":"rdec","type":"quantitative","scale":{"domain":[-0.14,0.14],"nice":false,"zero":false},
"axis":{"orient":"right","title":null,"labels":false,"domain":false,"values":[-0.13,-0.12,-0.11,-0.1,-0.09,-0.08,-0.07,-0.06,-0.05,-0.04,-0.03,-0.02,-0.01,0,0.01,0.02,0.03,0.04,0.05,0.06,0.07,0.08,0.09,0.1,0.11,0.12,0.13],"tickSize":{"condition":{"test":"abs(round(datum.value*100)) % 5 == 0","value":-10},"value":-5}}}}}
]}
]}
]}
]
}
